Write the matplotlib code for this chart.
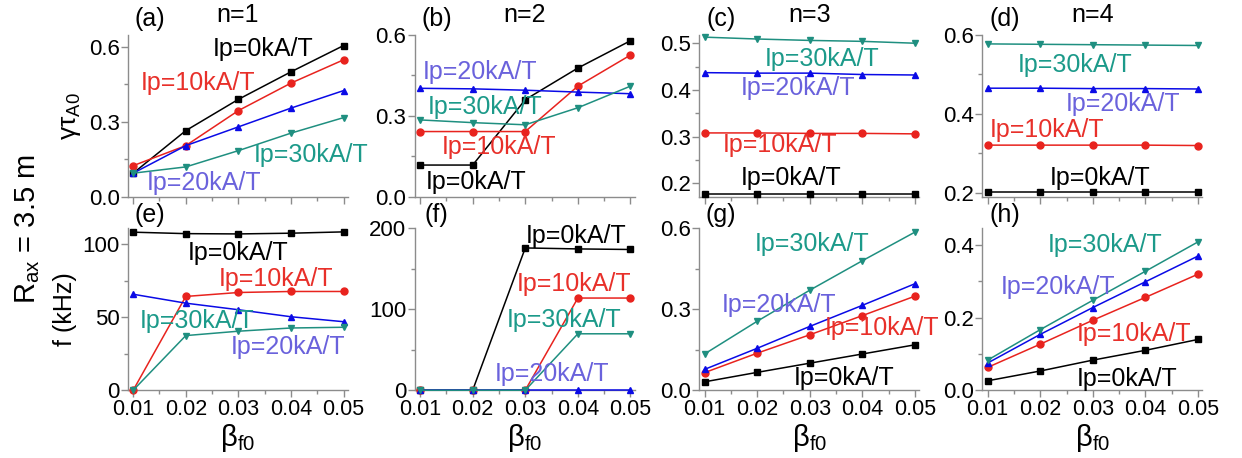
import matplotlib
matplotlib.use("Agg")
import matplotlib.pyplot as plt
from matplotlib.ticker import MultipleLocator, AutoMinorLocator

plt.rcParams['font.family'] = ['Liberation Sans', 'DejaVu Sans']
plt.rcParams['mathtext.fontset'] = 'custom'
plt.rcParams['mathtext.rm'] = 'Liberation Sans'
plt.rcParams['mathtext.it'] = 'Liberation Sans:italic'

beta = [0.01, 0.02, 0.03, 0.04, 0.05]
currents = ['0', '10', '20', '30']

# growth rate gamma*tau_A0, n=1..4
gam_n1 = {'0': [0.095, 0.265, 0.39, 0.50, 0.605],
          '10': [0.125, 0.205, 0.345, 0.455, 0.548],
          '20': [0.095, 0.205, 0.28, 0.355, 0.425],
          '30': [0.095, 0.12, 0.185, 0.255, 0.317]}
gam_n2 = {'0': [0.118, 0.118, 0.36, 0.477, 0.578],
          '10': [0.242, 0.242, 0.242, 0.41, 0.525],
          '20': [0.402, 0.40, 0.395, 0.388, 0.382],
          '30': [0.285, 0.275, 0.267, 0.33, 0.41]}
gam_n3 = {'0': [0.178, 0.178, 0.178, 0.178, 0.178],
          '10': [0.308, 0.308, 0.307, 0.307, 0.306],
          '20': [0.437, 0.436, 0.436, 0.433, 0.432],
          '30': [0.513, 0.509, 0.506, 0.504, 0.50]}
gam_n4 = {'0': [0.202, 0.202, 0.202, 0.202, 0.202],
          '10': [0.321, 0.321, 0.321, 0.321, 0.320],
          '20': [0.465, 0.465, 0.464, 0.464, 0.463],
          '30': [0.577, 0.576, 0.575, 0.574, 0.573]}

# frequency f (kHz), n=1..4
freq_n1 = {'0': [108.2, 107.2, 107.0, 107.5, 108.4],
           '10': [0, 64.2, 66.9, 67.6, 67.6],
           '20': [65.7, 59.6, 55.1, 50.3, 46.9],
           '30': [0, 37.4, 40.4, 42.6, 43.1]}
freq_n2 = {'0': [0, 0, 175.5, 174.3, 173.6],
           '10': [0, 0, 0, 113.7, 113.7],
           '20': [0, 0, 0, 0, 0],
           '30': [0, 0, 0, 69.6, 69.6]}
freq_n3 = {'0': [0.031, 0.066, 0.10, 0.134, 0.168],
           '10': [0.065, 0.137, 0.205, 0.276, 0.348],
           '20': [0.077, 0.155, 0.236, 0.314, 0.394],
           '30': [0.134, 0.255, 0.37, 0.479, 0.585]}
freq_n4 = {'0': [0.026, 0.053, 0.083, 0.11, 0.14],
           '10': [0.063, 0.127, 0.193, 0.256, 0.32],
           '20': [0.075, 0.154, 0.228, 0.299, 0.37],
           '30': [0.083, 0.167, 0.248, 0.328, 0.409]}

line_col = {'0': '#000000', '10': '#e8231e', '20': '#0a0ae6', '30': '#1f8f80'}
text_col = {'0': '#000000', '10': '#e8302a', '20': '#6a62dc', '30': '#1c9a8a'}
markers = {'0': 's', '10': 'o', '20': '^', '30': 'v'}

# label positions (data coords) for each panel
lab_a = {'0': (0.0347, 0.59), '10': (0.0223, 0.455), '20': (0.0234, 0.055), '30': (0.0439, 0.168)}
lab_b = {'0': (0.0207, 0.056), '10': (0.0250, 0.185), '20': (0.0214, 0.463), '30': (0.0224, 0.333)}
lab_c = {'0': (0.0264, 0.211), '10': (0.0243, 0.282), '20': (0.0277, 0.404), '30': (0.0323, 0.466)}
lab_d = {'0': (0.0314, 0.238), '10': (0.0213, 0.36), '20': (0.0357, 0.426), '30': (0.0267, 0.523)}
lab_e = {'0': (0.030, 94.1), '10': (0.0372, 75.8), '20': (0.0394, 29.5), '30': (0.0222, 47.6)}
lab_f = {'0': (0.0397, 190), '10': (0.0393, 131), '20': (0.0351, 20.5), '30': (0.0374, 86)}
lab_g = {'0': (0.0365, 0.044), '10': (0.0437, 0.23), '20': (0.0242, 0.317), '30': (0.0304, 0.541)}
lab_h = {'0': (0.0365, 0.032), '10': (0.0379, 0.156), '20': (0.0234, 0.285), '30': (0.0324, 0.40)}

panels = [
    (gam_n1, lab_a, (0, 0.648), 0.3, '(a)', 'n=1'),
    (gam_n2, lab_b, (0, 0.6), 0.3, '(b)', 'n=2'),
    (gam_n3, lab_c, (0.171, 0.518), 0.1, '(c)', 'n=3'),
    (gam_n4, lab_d, (0.19, 0.6), 0.2, '(d)', 'n=4'),
    (freq_n1, lab_e, (0, 111), 50, '(e)', None),
    (freq_n2, lab_f, (0, 200), 100, '(f)', None),
    (freq_n3, lab_g, (0, 0.6), 0.3, '(g)', None),
    (freq_n4, lab_h, (0, 0.447), 0.2, '(h)', None),
]

fig = plt.figure(figsize=(12.42, 4.58), dpi=100)
lefts = [0.103, 0.334, 0.563, 0.791]
bottoms = [0.570, 0.148]
w, h = 0.177, 0.354

for k, (data, labs, ylim, major, tag, ntxt) in enumerate(panels):
    row, col = divmod(k, 4)
    ax = fig.add_axes([lefts[col], bottoms[row], w, h])
    for c in currents:
        ax.plot(beta, data[c], color=line_col[c], marker=markers[c],
                markersize=5, linewidth=1.1, clip_on=False, zorder=3)
        x, y = labs[c]
        ax.text(x, y, f'Ip={c}kA/T', color=text_col[c], fontsize=18,
                ha='center', va='center', zorder=4)
    ax.set_xlim(0.009, 0.0508)
    ax.set_ylim(*ylim)
    ax.yaxis.set_major_locator(MultipleLocator(major))
    ax.yaxis.set_minor_locator(AutoMinorLocator(2))
    ax.xaxis.set_major_locator(MultipleLocator(0.01))
    ax.xaxis.set_minor_locator(AutoMinorLocator(2))
    for s in ['top', 'right']:
        ax.spines[s].set_visible(False)
    for s in ['left', 'bottom']:
        ax.spines[s].set_color('#8c8c8c')
        ax.spines[s].set_linewidth(1.0)
    ax.tick_params(which='both', direction='out', color='#8c8c8c', width=1.0)
    ax.tick_params(which='major', length=5, labelsize=16, pad=1)
    ax.tick_params(which='minor', length=3)
    ax.tick_params(axis='x', labelsize=15.5)
    if row == 0:
        ax.tick_params(axis='x', labelbottom=False)
        ax.text(0.1, 1.1, tag, transform=ax.transAxes, fontsize=18,
                ha='center', va='center')
        ax.text(0.5, 1.12, ntxt, transform=ax.transAxes, fontsize=18,
                ha='center', va='center')
    else:
        ax.set_xticklabels(['', '0.01', '0.02', '0.03', '0.04', '0.05'][:len(ax.get_xticks())])
        ax.text(0.1, 1.08, tag, transform=ax.transAxes, fontsize=18,
                ha='center', va='center')
        ax.set_xlabel('β$_{\\rm f0}$', fontsize=21, labelpad=2)
    if k == 0:
        ax.set_ylabel('γτ$_{\\rm A0}$', fontsize=19, labelpad=4)
    if k == 4:
        ax.set_ylabel('f (kHz)', fontsize=18, labelpad=4)

fig.text(0.022, 0.50, r'R$_{\rm ax}$ = 3.5 m', rotation=90, fontsize=21,
         ha='center', va='center')

fig.savefig('out.png', dpi=100)
